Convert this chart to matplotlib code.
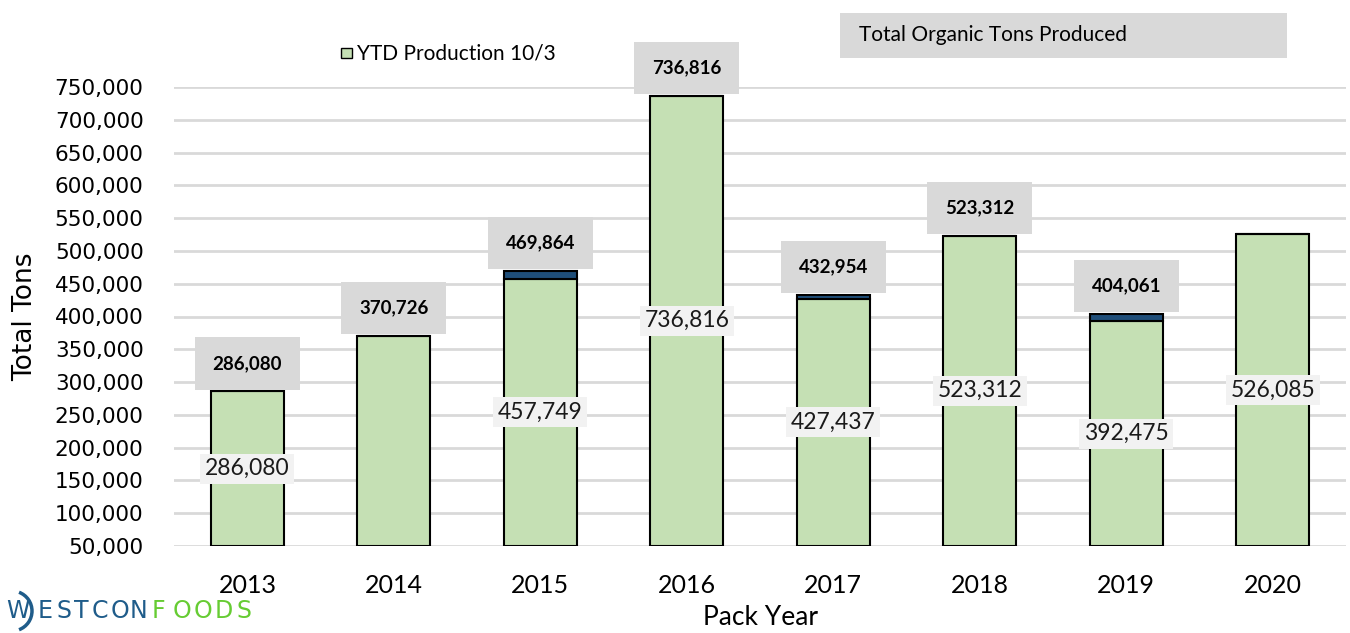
import matplotlib.pyplot as plt
from matplotlib.patches import Rectangle, Arc

plt.rcParams['font.family'] = ['Lato', 'DejaVu Sans']

# data
years = ['2013', '2014', '2015', '2016', '2017', '2018', '2019', '2020']
ytd = [286080, 370726, 457749, 736816, 427437, 523312, 392475, 526085]
totals = [286080, 370726, 469864, 736816, 432954, 523312, 404061, None]
ytd_shown = [True, False, True, True, True, True, True, True]
y_ticks = list(range(50000, 750001, 50000))

GREEN = '#c5e0b4'
BLUE = '#1f4e79'

fig = plt.figure(figsize=(13.5, 6.33), dpi=100)
ax = fig.add_axes([0.129, 0.1374, 0.868, 0.7252])

x = list(range(len(years)))
rest = [(t - v) if t is not None else 0 for t, v in zip(totals, ytd)]

ax.bar(x, [v - 50000 for v in ytd], bottom=50000, width=0.5, color=GREEN,
       edgecolor='black', linewidth=1.5, zorder=3, label='YTD Production 10/3')
ax.bar(x, rest, bottom=ytd, width=0.5, color=BLUE, edgecolor='black',
       linewidth=1.5, zorder=3)

# labels inside bars
for i, v in enumerate(ytd):
    if not ytd_shown[i]:
        continue
    ax.text(i, (50000 + v) / 2, '{:,}'.format(v), ha='center', va='center',
            fontsize=16.5, color='#1a1a1a', zorder=5,
            bbox=dict(boxstyle='square,pad=0.2', fc='#f2f2f2', ec='none'))

# total labels above bars
for i, t in enumerate(totals):
    if t is None:
        continue
    ax.annotate('{:,}'.format(t), (i, t), xytext=(0, 20), textcoords='offset points',
                ha='center', va='center', fontsize=13.5, fontweight='bold',
                annotation_clip=False, zorder=5,
                bbox=dict(boxstyle='square,pad=0.95', fc='#d9d9d9', ec='none'))

ax.set_xlim(-0.5, 7.5)
ax.set_ylim(50000, 750000)
ax.set_yticks(y_ticks)
ax.set_yticklabels(['{:,}'.format(t) for t in y_ticks], family='DejaVu Sans', fontsize=15.5)
ax.set_xticks(x)
ax.set_xticklabels(years, fontsize=18)
ax.tick_params(axis='y', length=0, pad=22)
ax.tick_params(axis='x', length=0, pad=20)
ax.grid(axis='y', color='#d9d9d9', linewidth=2, zorder=0)
ax.set_axisbelow(True)
for s in ax.spines.values():
    s.set_visible(False)

ax.set_ylabel('Total Tons', fontsize=19, family='DejaVu Sans', labelpad=12)
ax.set_xlabel('Pack Year', fontsize=19, labelpad=6)

# legend and series box
fig.patches.append(Rectangle((341 / 1350, 1 - 58 / 633), 11 / 1350, 10 / 633,
                             transform=fig.transFigure, fc=GREEN, ec='black', lw=1))
fig.text(357 / 1350, 1 - 53 / 633, 'YTD Production 10/3', fontsize=15, va='center')
fig.patches.append(Rectangle((840 / 1350, 1 - 58 / 633), 447 / 1350, 45 / 633,
                             transform=fig.transFigure, fc='#d9d9d9', ec='none'))
fig.text(859 / 1350, 1 - 35 / 633, 'Total Organic Tons Produced', fontsize=15, va='center')

# logo
logo_x = [6, 38, 56, 74, 92, 111, 130]
for ch, px in zip('WESTCON', logo_x):
    fig.text(px / 1350, 1 - 611 / 633, ch, fontsize=17, color='#1f5c8a',
             family='DejaVu Sans', va='center', ha='left')
for k, ch in enumerate('FOODS'):
    fig.text((152 + 21 * k) / 1350, 1 - 611 / 633, ch, fontsize=17, color='#66cc33',
             family='DejaVu Sans', va='center', ha='left')
fig.patches.append(Arc((12 / 1350, 1 - 611 / 633), 40 / 1350, 40 / 633, theta1=-80, theta2=80,
                       transform=fig.transFigure, color='#1f5c8a', lw=2.5))

fig.savefig('out.png', dpi=100)
